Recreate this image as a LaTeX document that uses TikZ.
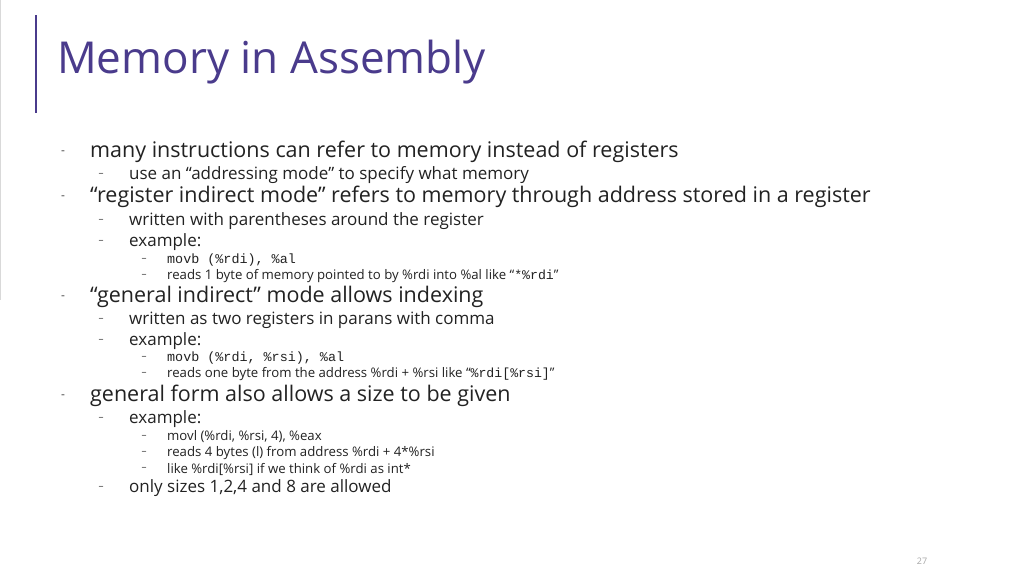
\documentclass[tikz,border=0pt]{standalone}
\usepackage{fontspec}
\setmainfont{Open Sans}
\setmonofont{Liberation Mono}
\definecolor{ttl}{HTML}{4A3B8C}
\definecolor{txt}{HTML}{222222}
\definecolor{dsh}{HTML}{444444}
\begin{document}
\begin{tikzpicture}[x=1pt,y=-1pt,
  t/.style={anchor=west,inner sep=0pt,text=txt},
  la/.style={t,font=\fontsize{21.5}{24}\selectfont},
  lb/.style={t,font=\fontsize{17}{19}\selectfont},
  lc/.style={t,font=\fontsize{13.2}{15}\selectfont},
  d/.style={anchor=center,inner sep=0pt,text=dsh}]
\useasboundingbox (0,0) rectangle (1024,576);
\fill[white] (0,0) rectangle (1024,576);
\draw[ttl,line width=1.2pt] (36,15) -- (36,113);
\draw[gray!30,line width=0.8pt] (0.5,0) -- (0.5,300);
\node[anchor=west,inner sep=0pt,text=ttl,font=\fontsize{44}{48}\selectfont] (title) at (57,62) {Memory in Assembly};
% level 1
\foreach \y/\n in {153/da1,198/da2,298/da3,397/da4} {\node[d,font=\large] (\n) at (63,\y) {-};}
\node[la] (a1) at (90,152) {many instructions can refer to memory instead of registers};
\node[la] (a2) at (90,197) {“register indirect mode” refers to memory through address stored in a register};
\node[la] (a3) at (90,297) {“general indirect” mode allows indexing};
\node[la] (a4) at (90,396) {general form also allows a size to be given};
% level 2
\foreach \y/\n in {175/db1,221/db2,242/db3,320/db4,341/db5,419/db6,488/db7} {\node[d,font=\normalsize] (\n) at (101,\y) {–};}
\node[lb] (b1) at (129,175) {use an “addressing mode” to specify what memory};
\node[lb] (b2) at (129,221) {written with parentheses around the register};
\node[lb] (b3) at (129,242) {example:};
\node[lb] (b4) at (129,320) {written as two registers in parans with comma};
\node[lb] (b5) at (129,341) {example:};
\node[lb] (b6) at (129,419) {example:};
\node[lb] (b7) at (129,488) {only sizes 1,2,4 and 8 are allowed};
% level 3
\foreach \y/\n in {260/dc1,276/dc2,358/dc3,374/dc4,437/dc5,453/dc6,469/dc7} {\node[d,font=\normalsize] (\n) at (144,\y) {–};}
\node[lc,font=\fontsize{13.4}{15}\ttfamily] (c1) at (167,260) {movb (\%rdi), \%al};
\node[lc] (c2) at (167,276) {reads 1 byte of memory pointed to by \%rdi into \%al like “{\ttfamily *\%rdi}”};
\node[lc,font=\fontsize{13.4}{15}\ttfamily] (c3) at (167,358) {movb (\%rdi, \%rsi), \%al};
\node[lc] (c4) at (167,374) {reads one byte from the address \%rdi + \%rsi like “{\ttfamily \%rdi[\%rsi]}”};
\node[lc] (c5) at (167,437) {movl (\%rdi, \%rsi, 4), \%eax};
\node[lc] (c6) at (167,453) {reads 4 bytes (l) from address \%rdi + 4*\%rsi};
\node[lc] (c7) at (167,469) {like \%rdi[\%rsi] if we think of \%rdi as int*};
\node[anchor=center,inner sep=0pt,text=gray!70,font=\fontsize{9}{10}\selectfont] (pg) at (922,561) {27};
\end{tikzpicture}
\end{document}
